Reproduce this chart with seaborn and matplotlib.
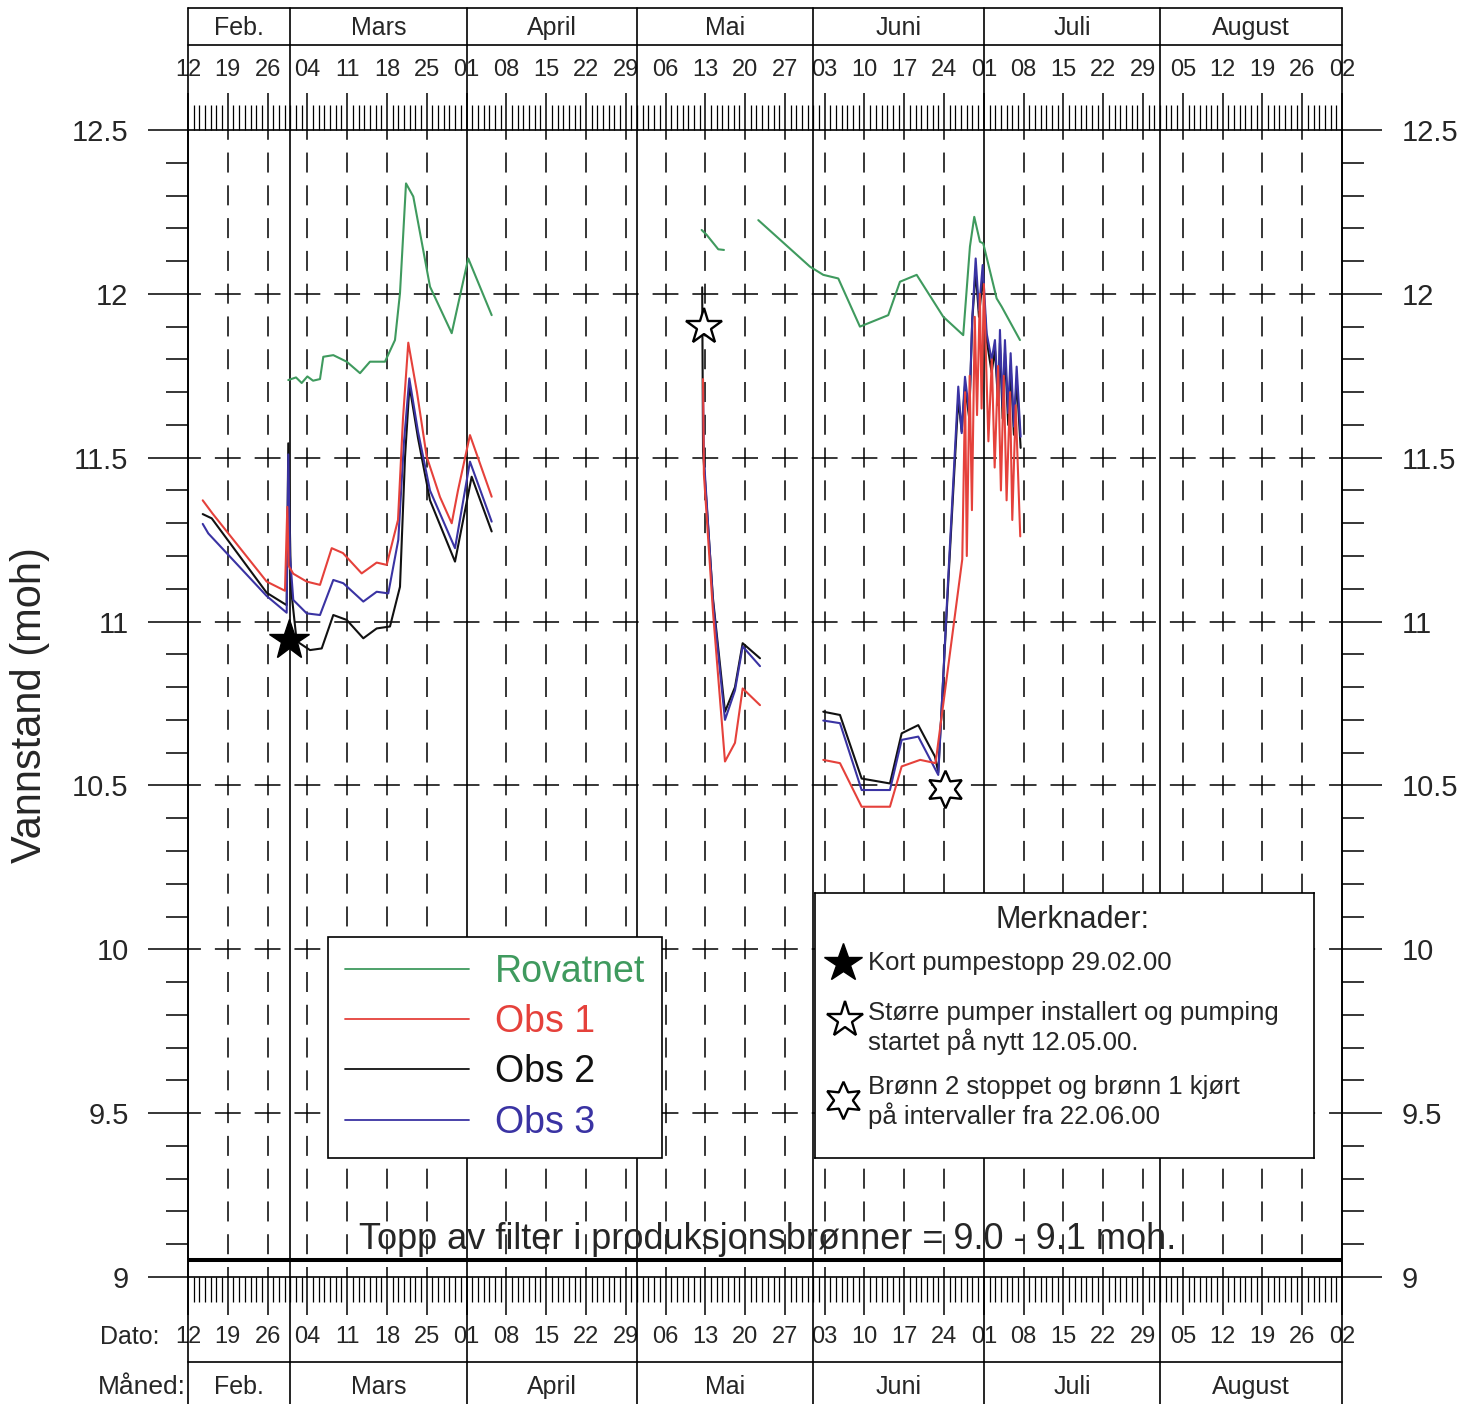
import numpy as np
import pandas as pd
import matplotlib
matplotlib.use("Agg")
import matplotlib.pyplot as plt
from matplotlib.lines import Line2D
from matplotlib.ticker import FuncFormatter
import seaborn as sns

# ---------------- data (x = days since 12 Feb 2000, y = water level in moh) ----------------
start_dato = "2000-02-12"

rov_dag_1 = [17.64, 19.0, 20.0, 21.0, 22.0, 23.22, 23.8, 25.56, 27.92, 30.26, 32.01, 34.65,
             36.41, 37.29, 38.35, 39.63, 42.57, 46.39, 49.30, 53.42]
rov_niva_1 = [11.737, 11.745, 11.728, 11.748, 11.735, 11.74, 11.808, 11.813, 11.793, 11.758,
              11.793, 11.793, 11.859, 12.002, 12.337, 12.297, 12.022, 11.880, 12.108, 11.935]
rov_dag_2 = [90.36, 91.24, 93.28, 94.28]
rov_niva_2 = [12.195, 12.18, 12.136, 12.134]
rov_dag_3 = [100.32, 109.41, 111.75, 114.39, 118.2, 123.18, 125.24, 128.18, 132.86, 136.37,
             137.55, 138.31, 139.31, 139.89, 142.25, 143.13, 146.35]
rov_niva_3 = [12.225, 12.083, 12.058, 12.047, 11.9, 11.935, 12.037, 12.058, 11.930, 11.874,
              12.144, 12.235, 12.159, 12.154, 11.986, 11.961, 11.859]

obs1_dag_1 = [2.59, 4.3, 13.84, 17.06, 17.47, 17.7, 18.52, 20.88, 23.22, 25.28, 27.26, 30.55,
              33.19, 34.95, 36.94, 37.82, 38.75, 40.28, 41.99, 44.33, 46.39, 47.49, 49.6, 53.42]
obs1_niva_1 = [11.37, 11.33, 11.122, 11.094, 11.35, 11.17, 11.146, 11.122, 11.112, 11.224, 11.209,
               11.147, 11.180, 11.173, 11.31, 11.62, 11.851, 11.70, 11.503, 11.38, 11.30, 11.40,
               11.569, 11.381]
obs1_dag_2 = [90.6, 90.75, 92.35, 94.46, 96.22, 97.57, 100.62]
obs1_niva_2 = [11.74, 11.45, 11.03, 10.573, 10.63, 10.796, 10.745]
obs1_dag_3 = [111.75, 114.69, 118.5, 123.48, 125.54, 128.8, 131.5, 136.2, 136.7, 137.0, 137.5,
              137.9, 138.4, 138.8, 139.3, 139.6, 140.0, 140.8, 141.4, 141.9, 142.5, 143.0, 143.5,
              144.0, 144.6, 145.0, 145.6, 146.4]
obs1_niva_3 = [10.578, 10.568, 10.435, 10.435, 10.558, 10.578, 10.568, 11.19, 11.70, 11.20, 11.75,
               11.34, 11.93, 11.63, 12.0, 11.65, 12.03, 11.55, 11.80, 11.47, 11.78, 11.40, 11.75,
               11.37, 11.70, 11.31, 11.66, 11.26]

obs2_dag_1 = [2.59, 4.17, 13.84, 17.36, 17.64, 18.12, 19.12, 21.46, 23.52, 25.56, 27.92, 30.84,
              33.19, 35.53, 37.29, 38.17, 38.96, 40.46, 42.57, 46.97, 49.9, 53.42]
obs2_niva_1 = [11.328, 11.315, 11.088, 11.05, 11.544, 11.10, 10.94, 10.913, 10.918, 11.02, 11.005,
               10.949, 10.979, 10.985, 11.106, 11.50, 11.72, 11.56, 11.37, 11.183, 11.442, 11.275]
obs2_dag_2 = [90.45, 90.6, 92.35, 94.46, 96.22, 97.57, 100.62]
obs2_niva_2 = [12.02, 11.52, 11.07, 10.725, 10.80, 10.934, 10.888]
obs2_dag_3 = [111.75, 114.69, 118.5, 123.48, 125.54, 128.46, 131.4, 131.98, 133.74, 135.5, 136.1,
              136.68, 137.43, 137.96, 138.56, 139.14, 139.79, 140.49, 141.37, 141.95, 142.53,
              142.83, 143.3, 143.71, 144.29, 144.71, 145.29, 145.77, 146.47]
obs2_niva_3 = [10.725, 10.715, 10.521, 10.506, 10.659, 10.684, 10.588, 10.54, 11.12, 11.68, 11.58,
               11.72, 11.62, 11.92, 12.07, 11.93, 12.05, 11.86, 11.76, 11.83, 11.66, 11.85, 11.62,
               11.82, 11.60, 11.78, 11.57, 11.74, 11.53]

obs3_dag_1 = [2.59, 3.57, 13.84, 17.36, 17.64, 17.94, 18.52, 20.88, 23.22, 25.56, 27.32, 30.84,
              33.19, 35.23, 36.99, 38.0, 38.93, 40.46, 42.57, 46.97, 49.6, 53.42]
obs3_niva_1 = [11.298, 11.269, 11.078, 11.027, 11.51, 11.20, 11.066, 11.025, 11.02, 11.127, 11.117,
               11.061, 11.091, 11.086, 11.249, 11.55, 11.742, 11.58, 11.40, 11.224, 11.488, 11.305]
obs3_dag_2 = [90.6, 90.75, 92.35, 94.46, 96.22, 97.57, 100.62]
obs3_niva_2 = [11.71, 11.50, 11.06, 10.70, 10.79, 10.924, 10.864]
obs3_dag_3 = [111.75, 114.69, 118.5, 123.48, 125.54, 128.46, 131.98, 133.74, 135.5, 136.1, 136.68,
              137.43, 137.96, 138.56, 139.14, 139.79, 140.49, 141.37, 141.95, 142.53, 142.83,
              143.3, 143.71, 144.29, 144.71, 145.29, 145.77, 146.47]
obs3_niva_3 = [10.698, 10.69, 10.486, 10.486, 10.639, 10.649, 10.532, 11.137, 11.717, 11.575,
               11.747, 11.636, 11.925, 12.108, 11.95, 12.088, 11.88, 11.798, 11.859, 11.676, 11.89,
               11.656, 11.859, 11.636, 11.819, 11.595, 11.778, 11.564]

# remark markers (filled star, hollow star, hollow 6-point star)
merke_dag = [17.8, 90.77, 133.2]
merke_niva = [10.944, 11.90, 10.49]

serier = ["Rovatnet", "Obs 1", "Obs 2", "Obs 3"]
farger = ["#3f9a5e", "#e5413b", "#111111", "#3a33a3"]
maaneder = ["Feb.", "Mars", "April", "Mai", "Juni", "Juli", "August"]
maaned_grenser = [0, 18, 49, 79, 110, 140, 171, 203]
y_ticks = [9.0, 9.5, 10.0, 10.5, 11.0, 11.5, 12.0, 12.5]
merknad_tekster = ["Kort pumpestopp 29.02.00",
                   "Større pumper installert og pumping",
                   "startet på nytt 12.05.00.",
                   "Brønn 2 stoppet og brønn 1 kjørt",
                   "på intervaller fra 22.06.00"]
filter_tekst = "Topp av filter i produksjonsbrønner = 9.0 - 9.1 moh."
filter_niva = 9.052

# ---------------- build long table ----------------
segs = [
    ("Rovatnet", "r1", rov_dag_1, rov_niva_1), ("Rovatnet", "r2", rov_dag_2, rov_niva_2),
    ("Rovatnet", "r3", rov_dag_3, rov_niva_3),
    ("Obs 1", "a1", obs1_dag_1, obs1_niva_1), ("Obs 1", "a2", obs1_dag_2, obs1_niva_2),
    ("Obs 1", "a3", obs1_dag_3, obs1_niva_3),
    ("Obs 2", "b1", obs2_dag_1, obs2_niva_1), ("Obs 2", "b2", obs2_dag_2, obs2_niva_2),
    ("Obs 2", "b3", obs2_dag_3, obs2_niva_3),
    ("Obs 3", "c1", obs3_dag_1, obs3_niva_1), ("Obs 3", "c2", obs3_dag_2, obs3_niva_2),
    ("Obs 3", "c3", obs3_dag_3, obs3_niva_3),
]
rows = []
for s, u, xs, ys in segs:
    for x, y in zip(xs, ys):
        rows.append({"serie": s, "seg": u, "dag": x, "niva": y})
df = pd.DataFrame(rows)

# ---------------- style ----------------
sns.set_style("ticks")
plt.rcParams["font.family"] = ["Liberation Sans", "DejaVu Sans"]
plt.rcParams["lines.scale_dashes"] = False

W, H = 1477, 1404
fig = plt.figure(figsize=(W / 100, H / 100), dpi=100)
fig.patch.set_facecolor("white")
ax = fig.add_axes([188 / W, 127 / H, 1154 / W, 1147 / H])

pal = dict(zip(serier, farger))
sns.lineplot(data=df, x="dag", y="niva", hue="serie", units="seg", estimator=None, sort=False,
             hue_order=["Rovatnet", "Obs 2", "Obs 3", "Obs 1"], palette=pal, legend=False,
             linewidth=1.5, ax=ax, zorder=3)

ax.set_xlim(0, 203)
ax.set_ylim(9, 12.5)
ax.set_xlabel("")
ax.set_ylabel("")

for sp in ax.spines.values():
    sp.set_linewidth(1.2)
    sp.set_color("black")
    sp.set_visible(True)

# grid
uker = list(range(0, 204, 7))
for w in uker:
    if w not in maaned_grenser:
        ax.axvline(w, color="black", lw=1.1, ls=(7.2, (14.4, 9.2)), zorder=1)
for yv in y_ticks[1:-1]:
    ax.axhline(yv, color="black", lw=1.1, ls=(9.3, (18.6, 10.05)), zorder=1)

xt = ax.get_xaxis_transform()
for m in maaned_grenser:
    ax.plot([m, m], [-0.1107, 1.1063], transform=xt, color="black", lw=1.2, clip_on=False, zorder=2)
for yy in [1.1063, 1.0741, -0.0741]:
    ax.plot([0, 203], [yy, yy], transform=xt, color="black", lw=1.2, clip_on=False, zorder=2)
for i, nm in enumerate(maaneder):
    xc = (maaned_grenser[i] + maaned_grenser[i + 1]) / 2
    ax.text(xc, 1.0889, nm, transform=xt, ha="center", va="center", fontsize=18)
    ax.text(xc, -0.0959, nm, transform=xt, ha="center", va="center", fontsize=18)

# ticks
t0 = pd.Timestamp(start_dato)
ax.set_xticks(uker)
ax.set_xticks(range(0, 204), minor=True)
ax.set_xticklabels([(t0 + pd.Timedelta(days=d)).strftime("%d") for d in uker])
ax.tick_params(axis="x", which="major", top=True, bottom=True, labeltop=True, labelbottom=True,
               direction="out", length=27, width=1.1, pad=8, labelsize=17, color="black")
ax.tick_params(axis="x", which="minor", top=True, bottom=True, direction="out", length=18,
               width=0.9, color="black")
ax.set_yticks(y_ticks)
ax.set_yticks(np.arange(9.0, 12.51, 0.1), minor=True)
ax.yaxis.set_major_formatter(FuncFormatter(lambda v, p: f"{v:g}"))
ax.tick_params(axis="y", which="major", left=True, right=True, labelleft=True, labelright=True,
               direction="out", length=28.8, width=1.1, pad=14, labelsize=21, color="black")
ax.tick_params(axis="y", which="minor", left=True, right=True, direction="out", length=16,
               width=1.1, color="black")

# filter line & text
ax.axhline(filter_niva, color="black", lw=2.9, zorder=2)
ax.text(102.0, 9.113, filter_tekst, ha="center", va="center", fontsize=26, zorder=4)

# remark markers on chart
ax.plot(merke_dag[0], merke_niva[0], marker="*", ms=30, color="black", ls="none", zorder=6)
ax.plot(merke_dag[1], merke_niva[1], marker="*", ms=27, mfc="white", mec="black", mew=1.7,
        ls="none", zorder=6)
ax.plot(merke_dag[2], merke_niva[2], marker=(6, 1, 0), ms=27, mfc="white", mec="black", mew=1.7,
        ls="none", zorder=6)

# legend
handles = [Line2D([], [], color=c, lw=1.3) for c in farger]
leg = ax.legend(handles, serier, loc="upper left", bbox_to_anchor=(328 / W, 1 - 937 / H),
                bbox_transform=fig.transFigure, fontsize=27, frameon=True, fancybox=False,
                edgecolor="black", framealpha=1, handlelength=3.3, handletextpad=0.7,
                borderpad=0.45, labelspacing=0.38, borderaxespad=0, labelcolor="linecolor")
leg.get_frame().set_linewidth(1.2)
leg.set_zorder(10)

# remarks box
bx = fig.add_axes([815 / W, 1 - 1158 / H, 499 / W, 265 / H])
bx.set_xlim(815, 1314)
bx.set_ylim(1158, 893)
bx.set_xticks([])
bx.set_yticks([])
bx.set_facecolor("white")
for sp in bx.spines.values():
    sp.set_linewidth(1.2)
    sp.set_color("black")
bx.text(1073, 920, "Merknader:", ha="center", va="center", fontsize=22)
bx.plot(843, 963, marker="*", ms=29, color="black")
bx.plot(845, 1020, marker="*", ms=27, mfc="white", mec="black", mew=1.7)
bx.plot(843, 1100, marker=(6, 1, 0), ms=27, mfc="white", mec="black", mew=1.7)
for tx, yy in zip(merknad_tekster, [963, 1013, 1042, 1087, 1116]):
    bx.text(868, yy, tx, ha="left", va="center", fontsize=18.5)

# outer labels
fig.text(30 / W, 1 - 705 / H, "Vannstand (moh)", rotation=90, ha="center", va="center", fontsize=30)
fig.text(160 / W, 1 - 1337 / H, "Dato:", ha="right", va="center", fontsize=18)
fig.text(186 / W, 1 - 1387 / H, "Måned:", ha="right", va="center", fontsize=19)

fig.savefig("out.png", dpi=100, facecolor="white")
